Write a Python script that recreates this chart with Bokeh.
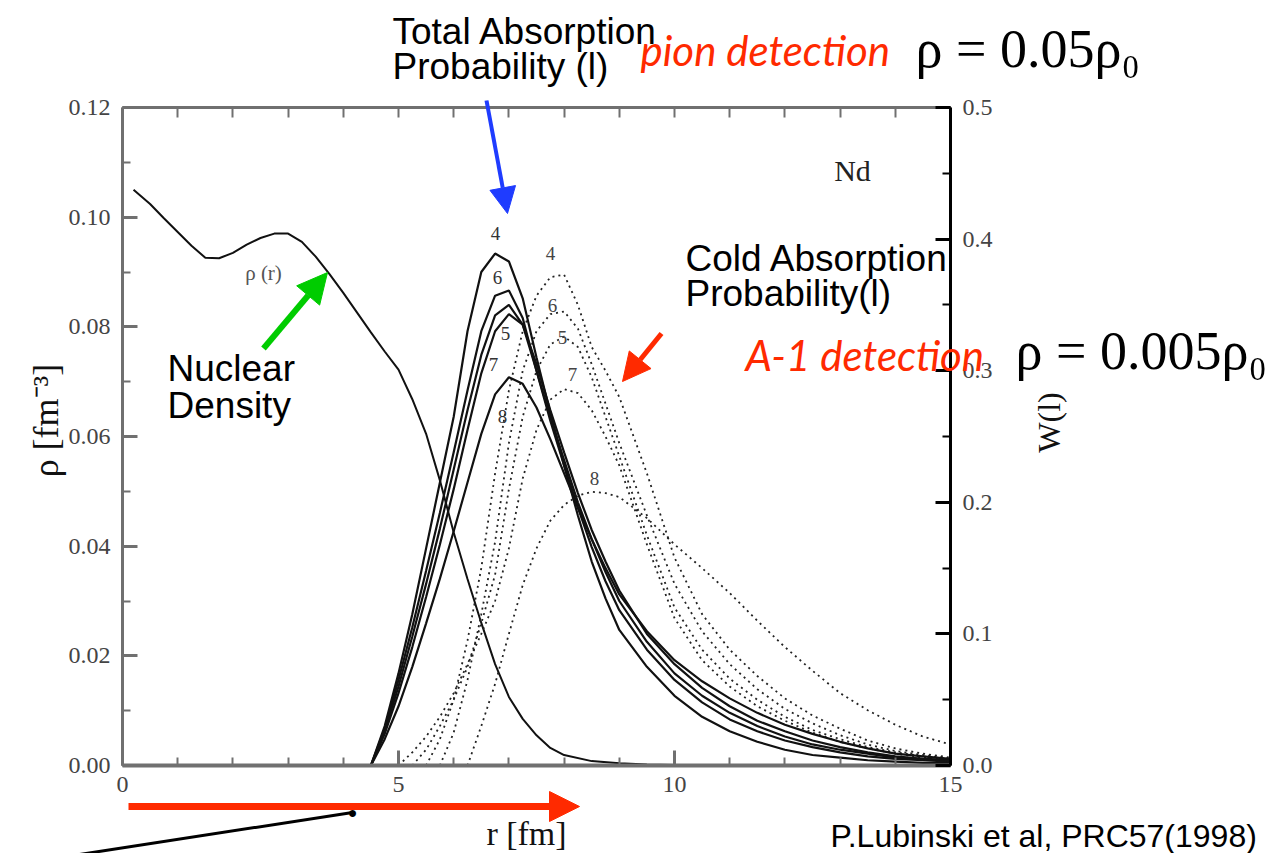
import math
from bokeh.plotting import figure
from bokeh.models import (Range1d, LinearAxis, SingleIntervalTicker, FixedTicker,
                          NumeralTickFormatter, Label, Arrow, NormalHead)
from bokeh.embed import file_html
from bokeh.resources import INLINE

nan = float("nan")

# ---------------- data ----------------
# nuclear density rho(r)  [fm^-3], left axis
RHO_R = [0.2, 0.5, 0.75, 1.0, 1.25, 1.5, 1.75, 2.0, 2.25, 2.5, 2.75, 3.0, 3.25, 3.5, 3.75,
         4.0, 4.25, 4.5, 4.75, 5.0, 5.25, 5.5, 5.75, 6.0, 6.25, 6.5, 6.75, 7.0, 7.25, 7.5,
         7.75, 8.0, 8.5, 9.0, 9.5, 10.0, 11.0, 12.0, 13.0, 14.0, 15.0]
RHO = [0.105, 0.1024, 0.0998, 0.0973, 0.0948, 0.0926, 0.0925, 0.0935, 0.0950, 0.0962, 0.0970,
       0.0970, 0.0955, 0.0928, 0.0896, 0.0862, 0.0826, 0.0790, 0.0755, 0.0722, 0.0668, 0.0605,
       0.0520, 0.0425, 0.0340, 0.0260, 0.0185, 0.0125, 0.0085, 0.0055, 0.0032, 0.0019, 0.0008,
       0.0004, 0.0002, 0.0001, 0.0, 0.0, 0.0, 0.0, 0.0]

# absorption probability W(l), right axis
R_W = [4.5, 4.75, 5.0, 5.25, 5.5, 5.75, 6.0, 6.25, 6.5, 6.75, 7.0, 7.25, 7.5, 7.75, 8.0, 8.25,
       8.5, 8.75, 9.0, 9.5, 10.0, 10.5, 11.0, 11.5, 12.0, 12.5, 13.0, 13.5, 14.0, 14.5, 15.0]

# total absorption probability (solid)
TOTAL_L4 = [0, .030, .070, .115, .165, .215, .265, .330, .375, .389, .383, .355, .310, .268, .228,
            .190, .155, .127, .103, .075, .053, .037, .026, .018, .012, .008, .006, .004, .003, .002, .002]
TOTAL_L6 = [0, .028, .065, .105, .148, .192, .238, .285, .330, .357, .361, .340, .300, .262, .228,
            .196, .166, .140, .118, .088, .065, .048, .035, .026, .019, .014, .010, .007, .005, .004, .003]
TOTAL_L5 = [0, .026, .060, .098, .138, .180, .225, .270, .312, .342, .350, .335, .300, .265, .232,
            .200, .172, .147, .125, .094, .070, .053, .040, .030, .022, .016, .012, .009, .006, .005, .004]
TOTAL_L7 = [0, .024, .055, .090, .128, .168, .210, .255, .298, .330, .343, .335, .305, .270, .238,
            .207, .179, .155, .133, .100, .077, .059, .045, .034, .026, .019, .014, .010, .007, .005, .004]
TOTAL_L8 = [0, .020, .045, .075, .108, .142, .178, .215, .252, .282, .295, .290, .272, .248, .222,
            .196, .172, .150, .130, .102, .080, .064, .051, .040, .031, .024, .018, .013, .009, .007, .005]

# cold absorption probability (dotted)
COLD_L4 = [nan, nan, nan, nan, 0, .020, .050, .095, .150, .222, .285, .330, .357, .371, .373,
           .350, .318, .300, .280, .222, .158, .115, .088, .068, .051, .038, .028, .019, .013, .009, .006]
COLD_L6 = [nan, nan, nan, nan, nan, 0, .025, .065, .115, .170, .245, .300, .330, .343, .345,
           .332, .305, .275, .245, .190, .138, .102, .077, .058, .043, .032, .023, .016, .011, .008, .005]
COLD_L5 = [nan, nan, nan, 0, .012, .030, .050, .075, .108, .145, .210, .265, .300, .320, .326,
           .318, .295, .265, .235, .175, .120, .088, .066, .050, .037, .027, .020, .014, .010, .007, .005]
COLD_L7 = [nan, nan, 0, .010, .022, .037, .055, .077, .100, .125, .165, .218, .255, .278, .286,
           .283, .270, .250, .228, .168, .112, .080, .060, .045, .034, .025, .018, .013, .009, .006, .004]
COLD_L8 = [nan, nan, nan, nan, nan, nan, nan, 0, .030, .062, .100, .137, .165, .186, .198,
           .205, .208, .207, .204, .188, .168, .150, .131, .110, .090, .072, .055, .042, .031, .022, .016]

TOTAL = [TOTAL_L4, TOTAL_L6, TOTAL_L5, TOTAL_L7, TOTAL_L8]
COLD = [COLD_L4, COLD_L6, COLD_L5, COLD_L7, COLD_L8]
L_NAMES = ["4", "6", "5", "7", "8"]

R_LIMITS = (0, 15)
RHO_LIMITS = (0, 0.12)
W_LIMITS = (0, 0.5)
X_TICK_STEP = 5
X_MINOR_TICKS = list(range(0, 16))
RHO_TICK_STEP = 0.02
W_TICK_STEP = 0.1

for s in TOTAL + COLD:
    assert len(s) == len(R_W)
assert len(RHO) == len(RHO_R)

# ---------------- layout: the chart box on the canvas (px) ----------------
PAGE_W, PAGE_H = 1281, 853
BX0, BX1, BY0, BY1 = 122, 950, 765, 107


def dx(px):
    return R_LIMITS[0] + (px - BX0) / (BX1 - BX0) * (R_LIMITS[1] - R_LIMITS[0])


def dy(py):
    return RHO_LIMITS[0] + (BY0 - py) / (BY0 - BY1) * (RHO_LIMITS[1] - RHO_LIMITS[0])


def dw(py):
    return W_LIMITS[0] + (BY0 - py) / (BY0 - BY1) * (W_LIMITS[1] - W_LIMITS[0])


p = figure(width=PAGE_W, height=PAGE_H,
           x_range=Range1d(dx(0), dx(PAGE_W)), y_range=Range1d(dy(PAGE_H), dy(0)),
           output_backend="svg", toolbar_location=None,
           x_axis_location=None, y_axis_location=None,
           min_border_left=0, min_border_right=0, min_border_top=0, min_border_bottom=0)
p.extra_y_ranges = {"w": Range1d(dw(PAGE_H), dw(0))}
p.outline_line_color = None
p.background_fill_color = "white"
p.border_fill_color = "white"
p.grid.visible = False

SERIF = "Liberation Serif"
SANS = "Liberation Sans"


def style_axis(ax, line_color, line_width, standoff=10):
    ax.axis_line_color = line_color
    ax.axis_line_width = line_width
    ax.major_tick_line_color = line_color
    ax.minor_tick_line_color = line_color
    ax.major_tick_line_width = 3
    ax.minor_tick_line_width = 2
    ax.major_tick_in = 15
    ax.major_tick_out = 0
    ax.minor_tick_in = 8
    ax.minor_tick_out = 0
    ax.major_label_text_font = SERIF
    ax.major_label_text_font_size = "24px"
    ax.major_label_text_color = "#444444"
    ax.major_label_standoff = standoff


xb = LinearAxis(ticker=SingleIntervalTicker(interval=X_TICK_STEP, num_minor_ticks=5),
                formatter=NumeralTickFormatter(format="0"),
                fixed_location=RHO_LIMITS[0], bounds=R_LIMITS)
style_axis(xb, "#707070", 4, standoff=11)
p.add_layout(xb, "below")

xt = LinearAxis(ticker=FixedTicker(ticks=[], minor_ticks=X_MINOR_TICKS),
                fixed_location=RHO_LIMITS[1], bounds=R_LIMITS)
style_axis(xt, "#707070", 3)
xt.minor_tick_in = 10
p.add_layout(xt, "above")

yl = LinearAxis(ticker=SingleIntervalTicker(interval=RHO_TICK_STEP, num_minor_ticks=2),
                formatter=NumeralTickFormatter(format="0.00"),
                fixed_location=R_LIMITS[0], bounds=RHO_LIMITS)
style_axis(yl, "#707070", 3, standoff=12)
p.add_layout(yl, "left")

yr = LinearAxis(y_range_name="w",
                ticker=SingleIntervalTicker(interval=W_TICK_STEP, num_minor_ticks=2),
                formatter=NumeralTickFormatter(format="0.0"),
                fixed_location=R_LIMITS[1], bounds=W_LIMITS)
style_axis(yr, "black", 3, standoff=12)
p.add_layout(yr, "right")

# ---------------- curves ----------------
p.line(RHO_R, RHO, line_color="#111111", line_width=2)

for s in COLD:
    p.line(R_W, s, y_range_name="w", line_color="#222222", line_width=1.8, line_dash="2 4")
for s in TOTAL:
    p.line(R_W, s, y_range_name="w", line_color="#111111", line_width=2.2)

# ---------------- annotations ----------------
RED = "#ff2a00"
BLUE = "#1f3cff"
GREEN = "#00cc00"


def text(t, px, py, font=SANS, size="37px", style="normal", color="black",
         align="left", angle=0.0):
    # (px, py): left (or centre) and vertical middle of the text on the canvas
    p.add_layout(Label(x=dx(px), y=dy(py), text=t, text_font=font, text_font_size=size,
                       text_font_style=style, text_color=color, text_align=align,
                       text_baseline="middle", angle=angle))


def arrow(x0, y0, x1, y1, color, width, head):
    end = NormalHead(size=head, fill_color=color, line_color=color) if head else None
    p.add_layout(Arrow(end=end, x_start=dx(x0), y_start=dy(y0), x_end=dx(x1), y_end=dy(y1),
                       line_color=color, line_width=width))


# axis titles
text("ρ [fm⁻³]", 45, 420, font=SERIF, size="36px", color="#111111", align="center",
     angle=math.pi / 2)
text("W(l)", 1048, 422, font=SERIF, size="32px", color="#111111", align="center",
     angle=math.pi / 2)
text("r [fm]", 526, 833, font=SERIF, size="34px", color="#111111", align="center")

# curve number labels
SOLID_LABEL_PX = [(495, 233), (497, 277), (505, 333), (493, 364), (502, 416)]
DOTTED_LABEL_PX = [(550, 253), (552, 305), (562, 337), (572, 374), (594, 478)]
for name, (lx, ly) in zip(L_NAMES, SOLID_LABEL_PX):
    text(name, lx, ly, font=SERIF, size="19px", color="#333333", align="center")
for name, (lx, ly) in zip(L_NAMES, DOTTED_LABEL_PX):
    text(name, lx, ly, font=SERIF, size="19px", color="#444444", align="center")

text("ρ (r)", 263, 272, font=SERIF, size="21px", color="#555555", align="center")
text("Nd", 852, 170, font=SERIF, size="30px", color="#222222", align="center")

text("Total Absorption", 392, 31)
text("Probability (l)", 392, 66)
text("pion detection", 640, 49, font="Lato", size="42px", style="italic", color=RED)
text("ρ = 0.05ρ₀", 915, 48, font=SERIF, size="54px")
text("Cold Absorption", 685, 258)
text("Probability(l)", 685, 293)
text("A-1 detection", 745, 354, font="Lato", size="42px", style="italic", color=RED)
text("ρ = 0.005ρ₀", 1015, 350, font=SERIF, size="54px")
text("Nuclear", 167, 368)
text("Density", 167, 405)
text("P.Lubinski et al, PRC57(1998)", 830, 835, size="32px")

arrow(486, 100, 507, 213, BLUE, 4, 26)
arrow(263, 348, 327, 272, GREEN, 6, 30)
arrow(661, 333, 622, 381, RED, 5, 28)
arrow(128, 806, 579, 806, RED, 7, 30)
arrow(40, 860, 352, 812, "black", 3, None)
text("●", 352, 812, size="16px", align="center")

open("out.html", "w").write(file_html(p, INLINE))
